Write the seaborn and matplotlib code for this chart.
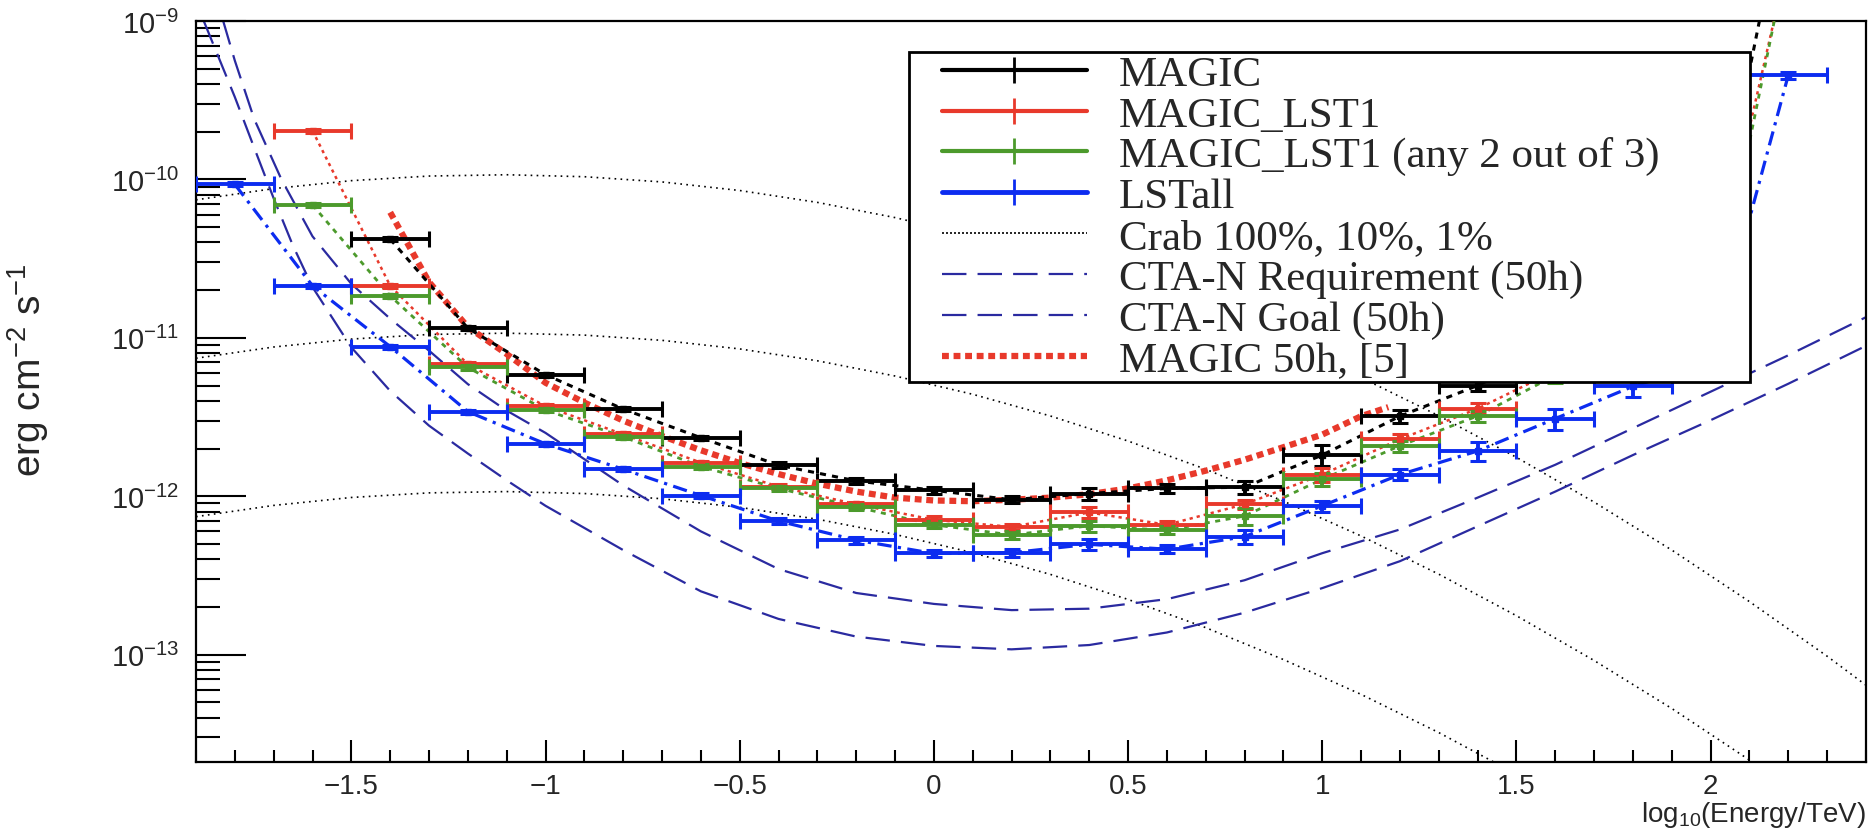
import numpy as np
import pandas as pd
import matplotlib
matplotlib.use("Agg")
import matplotlib.pyplot as plt
import seaborn as sns
from matplotlib.lines import Line2D
from matplotlib.legend_handler import HandlerLine2D
from matplotlib.ticker import LogLocator, MultipleLocator, NullFormatter, LogFormatterMathtext

# ------------------------------------------------------------------ data
bin_halfwidth = 0.1

magic_x = [-1.4, -1.2, -1.0, -0.8, -0.6, -0.4, -0.2, 0.0, 0.2, 0.4, 0.6, 0.8,
           1.0, 1.2, 1.4, 1.6, 1.8, 2.0, 2.2]
magic_y = [4.2e-11, 1.15e-11, 5.85e-12, 3.55e-12, 2.34e-12, 1.57e-12, 1.25e-12,
           1.09e-12, 9.5e-13, 1.04e-12, 1.12e-12, 1.14e-12, 1.82e-12, 3.2e-12,
           5.0e-12, 8.5e-12, 1.6e-11, 3.0e-11, 8.0e-9]
magic_rel_err = [0.03, 0.03, 0.03, 0.03, 0.03, 0.04, 0.04, 0.05, 0.05, 0.09,
                 0.06, 0.10, 0.15, 0.10, 0.08, 0.10, 0.10, 0.10, 0.10]

lst1_x = [-1.6, -1.4, -1.2, -1.0, -0.8, -0.6, -0.4, -0.2, 0.0, 0.2, 0.4, 0.6,
          0.8, 1.0, 1.2, 1.4, 1.6, 1.8, 2.0, 2.2]
lst1_y = [2.03e-10, 2.13e-11, 6.8e-12, 3.7e-12, 2.46e-12, 1.63e-12, 1.15e-12,
          8.9e-13, 7.1e-13, 6.4e-13, 7.9e-13, 6.6e-13, 8.9e-13, 1.37e-12,
          2.29e-12, 3.57e-12, 6.2e-12, 9.5e-12, 1.8e-11, 2.5e-9]
lst1_rel_err = [0.03, 0.03, 0.03, 0.03, 0.03, 0.03, 0.04, 0.04, 0.05, 0.05,
                0.08, 0.05, 0.07, 0.10, 0.08, 0.08, 0.10, 0.10, 0.10, 0.10]

any2_x = [-1.6, -1.4, -1.2, -1.0, -0.8, -0.6, -0.4, -0.2, 0.0, 0.2, 0.4, 0.6,
          0.8, 1.0, 1.2, 1.4, 1.6, 1.8, 2.0, 2.2]
any2_y = [6.9e-11, 1.84e-11, 6.5e-12, 3.5e-12, 2.37e-12, 1.54e-12, 1.12e-12,
          8.55e-13, 6.6e-13, 5.7e-13, 6.5e-13, 6.1e-13, 7.5e-13, 1.28e-12,
          2.08e-12, 3.21e-12, 5.8e-12, 8.5e-12, 1.1e-11, 2.7e-9]
any2_rel_err = [0.03, 0.03, 0.03, 0.03, 0.03, 0.03, 0.04, 0.04, 0.05, 0.06,
                0.08, 0.06, 0.12, 0.10, 0.08, 0.08, 0.10, 0.10, 0.10, 0.10]

lstall_x = [-1.8, -1.6, -1.4, -1.2, -1.0, -0.8, -0.6, -0.4, -0.2, 0.0, 0.2,
            0.4, 0.6, 0.8, 1.0, 1.2, 1.4, 1.6, 1.8, 2.0, 2.2]
lstall_y = [9.3e-11, 2.13e-11, 8.8e-12, 3.42e-12, 2.14e-12, 1.48e-12, 1.01e-12,
            6.97e-13, 5.28e-13, 4.35e-13, 4.4e-13, 4.97e-13, 4.63e-13, 5.56e-13,
            8.7e-13, 1.37e-12, 1.93e-12, 3.09e-12, 4.94e-12, 7.0e-12, 4.56e-10]
lstall_rel_err = [0.03, 0.03, 0.03, 0.03, 0.03, 0.03, 0.04, 0.04, 0.05, 0.05,
                  0.06, 0.08, 0.06, 0.10, 0.08, 0.08, 0.14, 0.15, 0.14, 0.10, 0.05]

magic50h_x = [-1.40, -1.30, -1.20, -1.10, -1.00, -0.90, -0.80, -0.70, -0.60,
              -0.50, -0.40, -0.30, -0.20, -0.10, 0.00, 0.10, 0.20, 0.30, 0.40,
              0.50, 0.60, 0.70, 0.80, 0.90, 1.00, 1.10, 1.17]
magic50h_y = [6.2e-11, 2.25e-11, 1.17e-11, 7.9e-12, 5.2e-12, 3.9e-12, 3.0e-12,
              2.4e-12, 1.95e-12, 1.62e-12, 1.38e-12, 1.2e-12, 1.07e-12, 9.8e-13,
              9.4e-13, 9.3e-13, 9.5e-13, 9.8e-13, 1.03e-12, 1.12e-12, 1.26e-12,
              1.45e-12, 1.7e-12, 2.04e-12, 2.45e-12, 3.2e-12, 3.65e-12]

crab_x = [-1.9, -1.7, -1.5, -1.3, -1.1, -0.9, -0.7, -0.5, -0.3, -0.1, 0.1, 0.3,
          0.5, 0.7, 0.9, 1.1, 1.3, 1.5, 1.7, 1.9, 2.1, 2.3, 2.5]
crab100_y = [7.43e-11, 8.75e-11, 9.82e-11, 1.05e-10, 1.07e-10, 1.04e-10, 9.64e-11,
             8.51e-11, 7.16e-11, 5.74e-11, 4.40e-11, 3.21e-11, 2.23e-11, 1.48e-11,
             9.31e-12, 5.61e-12, 3.22e-12, 1.76e-12, 9.18e-13, 4.57e-13, 2.16e-13,
             9.77e-14, 4.21e-14]
crab_fractions = [1.0, 0.1, 0.01]

cta_req_x = [-1.83, -1.80, -1.75, -1.68, -1.60, -1.50, -1.40, -1.30, -1.20, -1.10,
             -1.00, -0.80, -0.60, -0.40, -0.20, 0.00, 0.20, 0.40, 0.60, 0.80,
             1.00, 1.20, 1.40, 1.60, 1.80, 2.00, 2.20, 2.40]
cta_req_y = [1.0e-9, 5.62e-10, 2.4e-10, 1.0e-10, 4.37e-11, 2.19e-11, 1.32e-11,
             8.3e-12, 5.1e-12, 3.47e-12, 2.51e-12, 1.17e-12, 6.0e-13, 3.47e-13,
             2.45e-13, 2.09e-13, 1.91e-13, 1.95e-13, 2.24e-13, 2.95e-13, 4.37e-13,
             6.17e-13, 9.8e-13, 1.58e-12, 2.69e-12, 4.57e-12, 7.76e-12, 1.35e-11]

cta_goal_x = [-1.88, -1.80, -1.75, -1.70, -1.65, -1.60, -1.50, -1.40, -1.30, -1.20,
              -1.10, -1.00, -0.80, -0.60, -0.40, -0.20, 0.00, 0.20, 0.40, 0.60,
              0.80, 1.00, 1.20, 1.40, 1.60, 1.80, 2.00, 2.20, 2.40]
cta_goal_y = [1.0e-9, 3.31e-10, 1.58e-10, 7.59e-11, 3.8e-11, 2.09e-11, 8.7e-12,
              4.62e-12, 2.79e-12, 1.86e-12, 1.26e-12, 8.7e-13, 4.57e-13, 2.51e-13,
              1.68e-13, 1.30e-13, 1.135e-13, 1.08e-13, 1.15e-13, 1.38e-13, 1.84e-13,
              2.63e-13, 3.89e-13, 6.46e-13, 1.07e-12, 1.82e-12, 3.02e-12, 5.13e-12,
              8.9e-12]

legend_labels = ["MAGIC", "MAGIC_LST1", "MAGIC_LST1 (any 2 out of 3)", "LSTall",
                 "Crab 100%, 10%, 1%", "CTA-N Requirement (50h)",
                 "CTA-N Goal (50h)", "MAGIC 50h, [5]"]

# ------------------------------------------------------------------ style
sns.set_theme(style="white")
plt.rcParams["font.family"] = ["Liberation Sans", "DejaVu Sans"]
plt.rcParams["mathtext.fontset"] = "custom"
plt.rcParams["mathtext.rm"] = "Liberation Sans"
plt.rcParams["mathtext.it"] = "Liberation Sans:italic"
plt.rcParams["mathtext.bf"] = "Liberation Sans:bold"

C_BLACK = "#000000"
C_RED = "#e8392b"
C_GREEN = "#4c9a2c"
C_BLUE = "#0c2cf0"
C_CTA = "#2a2aa0"

fig = plt.figure(figsize=(18.76, 8.37), dpi=100)
fig.patch.set_facecolor("white")
ax = fig.add_axes([196 / 1876, 74 / 837, 1670 / 1876, 741 / 837])
ax.set_facecolor("white")
ax.set_yscale("log")

# Crab reference lines
for frac in crab_fractions:
    sns.lineplot(x=crab_x, y=[v * frac for v in crab100_y], ax=ax, color="black",
                 lw=1.2, linestyle=(0, (1.0, 2.6)), sort=False, estimator=None,
                 legend=False, zorder=1)

# CTA curves
sns.lineplot(x=cta_req_x, y=cta_req_y, ax=ax, color=C_CTA, lw=1.6,
             linestyle=(0, (11, 5)), sort=False, estimator=None, legend=False, zorder=2)
sns.lineplot(x=cta_goal_x, y=cta_goal_y, ax=ax, color=C_CTA, lw=1.6,
             linestyle=(0, (11, 5)), sort=False, estimator=None, legend=False, zorder=2)

# MAGIC 50h
sns.lineplot(x=magic50h_x, y=magic50h_y, ax=ax, color=C_RED, lw=4.5,
             linestyle=(0, (1.1, 0.75)), sort=False, estimator=None, legend=False, zorder=3)

series = [
    (magic_x, magic_y, magic_rel_err, C_BLACK, (0, (2.0, 2.0)), 2.2),
    (lst1_x, lst1_y, lst1_rel_err, C_RED, (0, (1.3, 1.6)), 1.8),
    (any2_x, any2_y, any2_rel_err, C_GREEN, (0, (1.8, 2.0)), 2.0),
    (lstall_x, lstall_y, lstall_rel_err, C_BLUE, (0, (4.5, 2.0, 1.0, 2.0)), 2.3),
]
for xs, ys, rel, col, ls, lw in series:
    sns.lineplot(x=xs, y=ys, ax=ax, color=col, lw=lw, linestyle=ls, sort=False,
                 estimator=None, legend=False, zorder=4)
for xs, ys, rel, col, ls, lw in series:
    yerr = [v * r for v, r in zip(ys, rel)]
    ax.errorbar(xs, ys, xerr=bin_halfwidth, yerr=yerr, fmt="s", ms=4, color=col,
                mec=col, ecolor=col, elinewidth=2.8, capsize=5.5, capthick=2.2,
                zorder=5)

ax.set_xlim(-1.9, 2.4)
ax.set_ylim(2.1e-14, 1e-9)

# ticks (ROOT-like)
ax.yaxis.set_major_locator(LogLocator(base=10, numticks=20))
ax.yaxis.set_minor_locator(LogLocator(base=10, subs=np.arange(2, 10), numticks=100))
ax.yaxis.set_major_formatter(LogFormatterMathtext())
ax.yaxis.set_minor_formatter(NullFormatter())
ax.xaxis.set_major_locator(MultipleLocator(0.5))
ax.xaxis.set_minor_locator(MultipleLocator(0.1))
ax.xaxis.set_major_formatter(plt.FuncFormatter(lambda v, p: ("%g" % v).replace("-", "\u2212")))

ax.tick_params(axis="y", which="major", direction="in", length=36, width=1.5,
               labelsize=21, pad=12, left=True, right=False, color="black")
ax.tick_params(axis="y", which="minor", direction="in", length=17, width=1.5,
               left=True, right=False, color="black")
ax.tick_params(axis="x", which="major", direction="in", length=16, width=1.5,
               labelsize=20, pad=8, bottom=True, top=False, color="black")
ax.tick_params(axis="x", which="minor", direction="in", length=8.5, width=1.5,
               bottom=True, top=False, color="black")
for sp in ax.spines.values():
    sp.set_visible(True)
    sp.set_color("black")
    sp.set_linewidth(1.6)

ax.set_ylabel(r"erg cm$^{-2}$ s$^{-1}$", fontsize=28)
ax.yaxis.set_label_coords(-0.087, 0.53)
ax.set_xlabel(r"log$_{10}$(Energy/TeV)", fontsize=20, ha="right", va="top")
ax.xaxis.set_label_coords(1.0, -0.05)
ax.grid(False)

# legend
handles = [
    Line2D([], [], color=C_BLACK, lw=3, marker="|", ms=19, mew=2),
    Line2D([], [], color=C_RED, lw=3, marker="|", ms=19, mew=2),
    Line2D([], [], color=C_GREEN, lw=3, marker="|", ms=19, mew=2),
    Line2D([], [], color=C_BLUE, lw=3.5, marker="|", ms=19, mew=2),
    Line2D([], [], color="black", lw=1.2, linestyle=(0, (1.2, 1.2))),
    Line2D([], [], color=C_CTA, lw=1.6, linestyle=(0, (11, 5))),
    Line2D([], [], color=C_CTA, lw=1.6, linestyle=(0, (11, 5))),
    Line2D([], [], color=C_RED, lw=4.5, linestyle=(0, (1.1, 0.75))),
]
leg = ax.legend(handles=handles, labels=legend_labels, loc="upper left",
                bbox_to_anchor=(909 / 1876, 1 - 383 / 837, 841 / 1876, 330 / 837),
                bbox_transform=fig.transFigure, mode="expand",
                prop={"family": "Liberation Serif", "size": 31},
                frameon=True, fancybox=False, framealpha=1, edgecolor="black",
                borderpad=0.06, labelspacing=0.04, handlelength=4.08,
                handletextpad=0.74, borderaxespad=0,
                handler_map={Line2D: HandlerLine2D(xpad=0.70)})
leg.get_frame().set_linewidth(2)
leg.set_zorder(10)

fig.savefig("out.png", dpi=100, facecolor="white")
